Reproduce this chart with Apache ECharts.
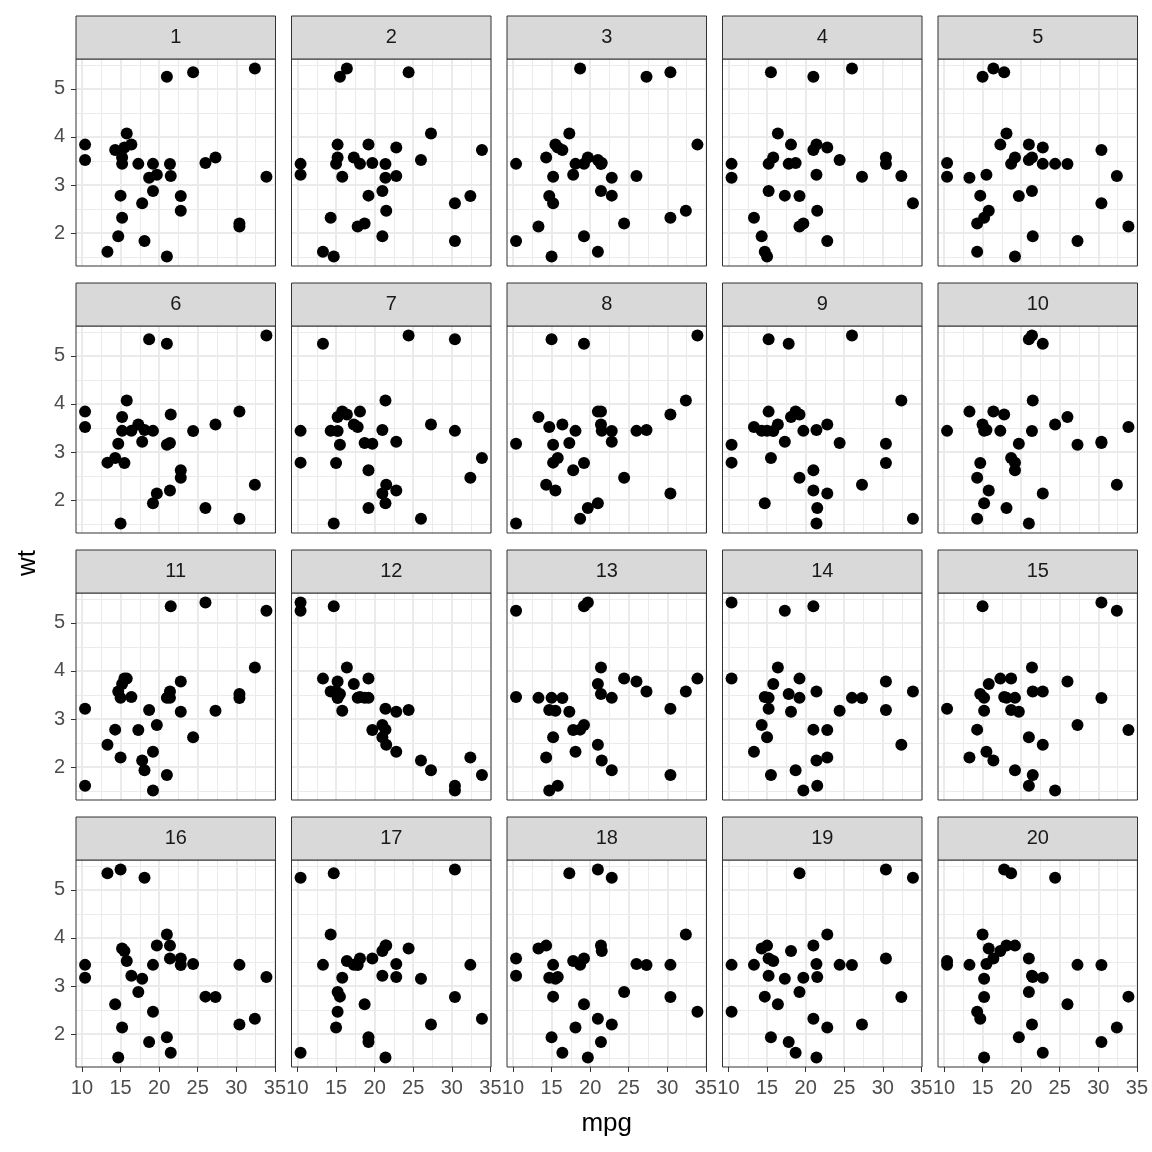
<!DOCTYPE html>
<html><head><meta charset="utf-8">
<script src="https://cdn.jsdelivr.net/npm/echarts@6/dist/echarts.min.js"></script>
<style>html,body{margin:0;padding:0;background:#fff}#c{width:1152px;height:1152px}</style>
</head><body><div id="c"></div>
<script>
const facetLabels = ['1','2','3','4','5','6','7','8','9','10','11','12','13','14','15','16','17','18','19','20'];
const xTicks = [10,15,20,25,30,35];
const xMinor = [12.5,17.5,22.5,27.5,32.5];
const yTicks = [2,3,4,5];
const yMinor = [1.5,2.5,3.5,4.5,5.5];
const xTitle = 'mpg';
const yTitle = 'wt';

// each point: [mpg, wt]
const p1 = [[21.0,5.25],[24.4,5.345],[32.4,5.424],[15.8,4.07],[10.4,3.84],[10.4,3.52],[14.3,3.73],[15.5,3.78],[16.4,3.845],[15.2,3.57],[17.3,3.44],[19.2,3.44],[21.4,3.435],[26.0,3.46],[27.3,3.57],[33.9,3.17],[18.7,3.15],[19.7,3.215],[21.5,3.19],[19.2,2.875],[15.0,2.78],[22.8,2.77],[17.8,2.62],[22.8,2.465],[15.2,2.32],[30.4,2.2],[30.4,2.14],[14.7,1.935],[18.1,1.835],[13.3,1.615],[21.0,1.513],[15.2,3.44]];
const p2 = [[16.4,5.424],[15.5,5.25],[24.4,5.345],[27.3,4.07],[15.2,3.84],[19.2,3.845],[22.8,3.78],[33.9,3.73],[15.2,3.57],[17.3,3.57],[26.0,3.52],[10.4,3.44],[15.0,3.44],[18.1,3.44],[19.7,3.46],[21.4,3.435],[10.4,3.215],[15.8,3.17],[21.4,3.15],[22.8,3.19],[21.0,2.875],[19.2,2.78],[32.4,2.77],[30.4,2.62],[21.5,2.465],[14.3,2.32],[17.8,2.14],[18.7,2.2],[21.0,1.935],[30.4,1.835],[13.3,1.615],[14.7,1.513]];
const p3 = [[18.7,5.424],[27.3,5.25],[30.4,5.345],[17.3,4.07],[33.9,3.84],[15.5,3.845],[16.4,3.73],[15.8,3.78],[14.3,3.57],[10.4,3.44],[18.1,3.44],[19.2,3.44],[19.7,3.57],[21.0,3.52],[21.4,3.435],[21.5,3.46],[15.2,3.17],[17.8,3.215],[22.8,3.15],[26.0,3.19],[21.4,2.875],[22.8,2.78],[14.7,2.77],[15.2,2.62],[32.4,2.465],[30.4,2.32],[24.4,2.2],[13.3,2.14],[19.2,1.935],[10.4,1.835],[21.0,1.615],[15.0,1.513]];
const p4 = [[15.5,5.345],[21.0,5.25],[26.0,5.424],[16.4,4.07],[18.1,3.84],[21.4,3.845],[21.0,3.73],[22.8,3.78],[15.8,3.57],[15.2,3.44],[17.8,3.44],[18.7,3.46],[24.4,3.52],[30.4,3.57],[30.4,3.435],[10.4,3.44],[10.4,3.15],[21.4,3.215],[27.3,3.17],[32.4,3.19],[15.2,2.875],[17.3,2.78],[19.2,2.77],[33.9,2.62],[21.5,2.465],[13.3,2.32],[19.2,2.14],[19.7,2.2],[14.3,1.935],[22.8,1.835],[14.7,1.615],[15.0,1.513]];
const p5 = [[16.4,5.424],[15.0,5.25],[17.8,5.345],[18.1,4.07],[17.3,3.84],[21.0,3.845],[22.8,3.78],[30.4,3.73],[19.2,3.57],[18.7,3.44],[21.0,3.52],[21.4,3.57],[22.8,3.44],[24.4,3.44],[26.0,3.435],[10.4,3.46],[10.4,3.17],[13.3,3.15],[15.5,3.215],[32.4,3.19],[14.7,2.78],[19.7,2.77],[21.4,2.875],[30.4,2.62],[15.8,2.465],[15.2,2.32],[14.3,2.2],[33.9,2.14],[21.5,1.935],[27.3,1.835],[14.3,1.615],[19.2,1.513]];
const p6 = [[33.9,5.424],[18.7,5.345],[21.0,5.25],[15.8,4.07],[10.4,3.84],[15.2,3.73],[21.5,3.78],[30.4,3.845],[10.4,3.52],[17.3,3.57],[15.2,3.44],[16.4,3.44],[18.1,3.46],[19.2,3.44],[24.4,3.435],[27.3,3.57],[14.7,3.17],[17.8,3.215],[21.0,3.15],[21.4,3.19],[13.3,2.78],[14.3,2.875],[15.5,2.77],[22.8,2.62],[22.8,2.465],[32.4,2.32],[21.4,2.2],[19.7,2.14],[19.2,1.935],[26.0,1.835],[30.4,1.615],[15.0,1.513]];
const p7 = [[13.3,5.25],[24.4,5.424],[30.4,5.345],[21.4,4.07],[15.8,3.845],[16.4,3.78],[15.2,3.73],[18.1,3.84],[17.3,3.57],[17.8,3.52],[27.3,3.57],[10.4,3.44],[14.3,3.44],[15.2,3.435],[21.0,3.46],[30.4,3.44],[15.5,3.15],[18.7,3.19],[19.7,3.17],[22.8,3.215],[33.9,2.875],[10.4,2.78],[15.0,2.77],[19.2,2.62],[32.4,2.465],[21.5,2.32],[21.0,2.14],[22.8,2.2],[21.4,1.935],[19.2,1.835],[26.0,1.615],[14.7,1.513]];
const p8 = [[15.0,5.345],[19.2,5.25],[33.9,5.424],[32.4,4.07],[13.3,3.73],[14.7,3.52],[16.4,3.57],[18.1,3.44],[21.0,3.84],[21.4,3.845],[21.4,3.57],[21.5,3.44],[22.8,3.435],[26.0,3.44],[27.3,3.46],[30.4,3.78],[10.4,3.17],[15.2,3.15],[17.3,3.19],[22.8,3.215],[15.8,2.875],[15.2,2.78],[19.2,2.77],[17.8,2.62],[24.4,2.465],[14.3,2.32],[15.5,2.2],[30.4,2.14],[21.0,1.935],[19.7,1.835],[18.7,1.615],[10.4,1.513]];
const p9 = [[15.2,5.345],[17.8,5.25],[26.0,5.424],[32.4,4.07],[15.2,3.84],[18.1,3.73],[18.7,3.845],[19.2,3.78],[13.3,3.52],[14.3,3.44],[15.0,3.44],[15.8,3.435],[16.4,3.57],[19.7,3.44],[21.4,3.46],[22.8,3.57],[10.4,3.15],[17.3,3.215],[24.4,3.19],[30.4,3.17],[10.4,2.78],[15.5,2.875],[30.4,2.77],[21.0,2.62],[19.2,2.465],[27.3,2.32],[21.0,2.2],[22.8,2.14],[14.7,1.935],[21.5,1.835],[21.4,1.513],[33.9,1.615]];
const p10 = [[21.4,5.424],[21.0,5.345],[22.8,5.25],[21.5,4.07],[13.3,3.84],[16.4,3.845],[17.8,3.78],[26.0,3.73],[15.0,3.57],[24.4,3.57],[33.9,3.52],[10.4,3.44],[15.2,3.44],[17.3,3.44],[21.4,3.435],[15.5,3.46],[19.7,3.17],[27.3,3.15],[30.4,3.215],[30.4,3.19],[18.7,2.875],[19.2,2.78],[14.7,2.77],[19.2,2.62],[14.3,2.465],[15.8,2.2],[22.8,2.14],[32.4,2.32],[15.2,1.935],[18.1,1.835],[14.3,1.615],[21.0,1.513]];
const p11 = [[21.5,5.345],[26.0,5.424],[33.9,5.25],[32.4,4.07],[15.5,3.845],[15.8,3.84],[15.2,3.73],[14.7,3.57],[15.0,3.44],[16.4,3.46],[22.8,3.78],[21.4,3.57],[21.0,3.44],[21.4,3.44],[30.4,3.52],[30.4,3.435],[10.4,3.215],[18.7,3.19],[22.8,3.15],[27.3,3.17],[19.7,2.875],[14.3,2.78],[17.3,2.77],[24.4,2.62],[13.3,2.465],[19.2,2.32],[15.0,2.2],[17.8,2.14],[18.1,1.935],[21.0,1.835],[10.4,1.615],[19.2,1.513]];
const p12 = [[21.0,2.620],[21.0,2.875],[22.8,2.320],[21.4,3.215],[18.7,3.440],[18.1,3.460],[14.3,3.570],[24.4,3.190],[22.8,3.150],[19.2,3.440],[17.8,3.440],[16.4,4.070],[17.3,3.730],[15.2,3.780],[10.4,5.250],[10.4,5.424],[14.7,5.345],[32.4,2.200],[30.4,1.615],[33.9,1.835],[21.5,2.465],[15.5,3.520],[15.2,3.435],[13.3,3.840],[19.2,3.845],[27.3,1.935],[26.0,2.140],[30.4,1.513],[15.8,3.170],[19.7,2.770],[15.0,3.570],[21.4,2.780]];
const p13 = [[10.4,5.25],[19.2,5.345],[19.7,5.424],[21.4,4.07],[21.0,3.73],[21.4,3.52],[22.8,3.44],[24.4,3.845],[26.0,3.78],[27.3,3.57],[32.4,3.57],[33.9,3.84],[10.4,3.46],[13.3,3.44],[15.0,3.44],[16.4,3.435],[30.4,3.215],[14.7,3.19],[15.5,3.17],[17.3,3.15],[17.8,2.77],[18.7,2.78],[19.2,2.875],[15.2,2.62],[21.0,2.465],[18.1,2.32],[14.3,2.2],[21.5,2.14],[22.8,1.935],[30.4,1.835],[14.7,1.513],[15.8,1.615]];
const p14 = [[10.4,5.424],[17.3,5.25],[21.0,5.345],[16.4,4.07],[10.4,3.845],[15.8,3.73],[19.2,3.84],[30.4,3.78],[33.9,3.57],[21.4,3.57],[14.7,3.46],[15.2,3.44],[17.8,3.52],[19.2,3.44],[26.0,3.44],[27.3,3.435],[15.2,3.215],[18.1,3.15],[24.4,3.17],[30.4,3.19],[14.3,2.875],[15.0,2.62],[21.0,2.78],[22.8,2.77],[32.4,2.465],[13.3,2.32],[21.4,2.14],[22.8,2.2],[15.5,1.835],[18.7,1.935],[21.5,1.615],[19.7,1.513]];
const p15 = [[15.0,5.345],[30.4,5.424],[32.4,5.25],[21.4,4.07],[17.3,3.84],[18.7,3.845],[15.8,3.73],[26.0,3.78],[14.7,3.52],[15.2,3.44],[17.8,3.46],[18.1,3.44],[19.2,3.44],[21.5,3.57],[22.8,3.57],[30.4,3.435],[10.4,3.215],[15.2,3.17],[19.7,3.15],[18.7,3.19],[27.3,2.875],[14.3,2.78],[33.9,2.77],[21.0,2.62],[22.8,2.465],[15.5,2.32],[13.3,2.2],[16.4,2.14],[19.2,1.935],[21.5,1.835],[21.0,1.615],[24.4,1.513]];
const p16 = [[13.3,5.345],[15.0,5.424],[18.1,5.25],[21.0,4.07],[19.7,3.845],[21.4,3.84],[15.2,3.78],[15.5,3.73],[15.8,3.52],[21.4,3.57],[22.8,3.57],[10.4,3.44],[19.2,3.44],[22.8,3.435],[24.4,3.46],[30.4,3.44],[10.4,3.17],[16.4,3.215],[17.8,3.15],[33.9,3.19],[17.3,2.875],[26.0,2.78],[27.3,2.77],[14.3,2.62],[19.2,2.465],[32.4,2.32],[30.4,2.2],[15.2,2.14],[21.0,1.935],[18.7,1.835],[21.5,1.615],[14.7,1.513]];
const p17 = [[10.4,5.25],[14.7,5.345],[30.4,5.424],[14.3,4.07],[13.3,3.44],[16.4,3.52],[17.3,3.44],[18.1,3.57],[17.8,3.435],[19.7,3.57],[21.0,3.73],[21.4,3.84],[21.5,3.845],[24.4,3.78],[22.8,3.46],[32.4,3.44],[15.8,3.17],[21.0,3.215],[22.8,3.19],[26.0,3.15],[15.2,2.875],[15.5,2.78],[30.4,2.77],[18.7,2.62],[15.2,2.465],[33.9,2.32],[27.3,2.2],[15.0,2.14],[19.2,1.935],[19.2,1.835],[10.4,1.615],[21.4,1.513]];
const p18 = [[17.3,5.345],[21.0,5.424],[22.8,5.25],[32.4,4.07],[14.3,3.84],[13.3,3.78],[21.4,3.845],[21.5,3.73],[10.4,3.57],[10.4,3.215],[15.2,3.44],[17.8,3.52],[19.2,3.57],[18.7,3.44],[26.0,3.46],[27.3,3.435],[30.4,3.44],[14.7,3.17],[15.5,3.15],[15.8,3.19],[24.4,2.875],[15.2,2.78],[30.4,2.77],[19.2,2.62],[33.9,2.465],[21.0,2.32],[18.1,2.14],[22.8,2.2],[15.0,1.935],[21.4,1.835],[16.4,1.615],[19.7,1.513]];
const p19 = [[19.2,5.345],[30.4,5.424],[33.9,5.25],[22.8,4.07],[14.3,3.78],[15.0,3.84],[18.1,3.73],[21.0,3.845],[15.2,3.57],[15.8,3.52],[21.4,3.46],[30.4,3.57],[10.4,3.44],[13.3,3.44],[24.4,3.44],[26.0,3.435],[15.2,3.215],[17.3,3.15],[19.7,3.17],[21.5,3.19],[19.2,2.875],[14.7,2.78],[16.4,2.62],[32.4,2.77],[10.4,2.465],[21.0,2.32],[22.8,2.14],[27.3,2.2],[15.5,1.935],[17.8,1.835],[18.7,1.615],[21.4,1.513]];
const p20 = [[17.8,5.424],[18.7,5.345],[24.4,5.25],[15.0,4.07],[18.1,3.845],[19.2,3.84],[15.8,3.78],[17.3,3.73],[16.4,3.57],[21.0,3.57],[10.4,3.52],[15.5,3.46],[10.4,3.44],[13.3,3.44],[27.3,3.44],[30.4,3.435],[21.4,3.215],[21.5,3.19],[22.8,3.17],[15.2,3.15],[21.0,2.875],[33.9,2.78],[15.2,2.77],[26.0,2.62],[14.3,2.465],[14.7,2.32],[21.4,2.2],[32.4,2.14],[19.7,1.935],[30.4,1.835],[22.8,1.615],[15.2,1.513]];

const panels = [p1,p2,p3,p4,p5,p6,p7,p8,p9,p10,p11,p12,p13,p14,p15,p16,p17,p18,p19,p20];

// layout
const NCOL = 5, NROW = 4;
const L0 = 76, PW = 199.5, DX = 215.5;
const T0 = 59, PH = 207, DY = 267, SH = 43;
const FONT = '"Liberation Sans", Arial, Helvetica, sans-serif';

// ggplot-style 5% expansion of the data range
const allX = panels.flat().map(d => d[0]);
const allY = panels.flat().map(d => d[1]);
const xmin0 = Math.min(...allX), xmax0 = Math.max(...allX);
const ymin0 = Math.min(...allY), ymax0 = Math.max(...allY);
const xr = [xmin0 - 0.05*(xmax0-xmin0), xmax0 + 0.05*(xmax0-xmin0)];
const yr = [ymin0 - 0.05*(ymax0-ymin0), ymax0 + 0.05*(ymax0-ymin0)];

const grids = [], xAxes = [], yAxes = [], series = [], graphics = [];
panels.forEach((data, i) => {
  const col = i % NCOL, row = Math.floor(i / NCOL);
  const left = L0 + col*DX, top = T0 + row*DY;
  grids.push({left: left, top: top, width: PW, height: PH, containLabel: false, outerBoundsMode: 'none', show: false});
  const bottom = row === NROW-1, leftCol = col === 0;
  xAxes.push({
    type: 'value', gridIndex: i, min: xr[0], max: xr[1],
    axisLine: {show: false, onZero: false},
    axisTick: {show: bottom, length: 5, customValues: xTicks, lineStyle: {color: '#333333', width: 1}},
    axisLabel: {show: bottom, customValues: xTicks, fontSize: 20, color: '#4D4D4D', margin: 11, fontFamily: FONT},
    splitLine: {show: false}, minorSplitLine: {show: false}
  });
  yAxes.push({
    type: 'value', gridIndex: i, min: yr[0], max: yr[1],
    axisLine: {show: false, onZero: false},
    axisTick: {show: leftCol, length: 5, customValues: yTicks, lineStyle: {color: '#333333', width: 1}},
    axisLabel: {show: leftCol, customValues: yTicks, fontSize: 20, color: '#4D4D4D', margin: 11, fontFamily: FONT},
    splitLine: {show: false}, minorSplitLine: {show: false}
  });
  const lines = [];
  xMinor.forEach(v => lines.push({xAxis: v, lineStyle: {width: 1, color: '#EBEBEB', type: 'solid'}}));
  yMinor.forEach(v => lines.push({yAxis: v, lineStyle: {width: 1, color: '#EBEBEB', type: 'solid'}}));
  xTicks.forEach(v => lines.push({xAxis: v, lineStyle: {width: 2, color: '#EBEBEB', type: 'solid'}}));
  yTicks.forEach(v => lines.push({yAxis: v, lineStyle: {width: 2, color: '#EBEBEB', type: 'solid'}}));
  series.push({
    type: 'scatter', xAxisIndex: i, yAxisIndex: i, data: [], z: 1, silent: true,
    markLine: {silent: true, z: 1, symbol: ['none','none'], label: {show: false}, animation: false,
      emphasis: {disabled: true}, data: lines}
  });
  series.push({
    type: 'scatter', xAxisIndex: i, yAxisIndex: i, data: data, z: 10, silent: true,
    symbol: 'circle', symbolSize: 12, itemStyle: {color: '#000000', opacity: 1}, animation: false
  });
  // panel border
  graphics.push({type: 'rect', z: 50, silent: true,
    shape: {x: left, y: top, width: PW, height: PH},
    style: {fill: 'none', stroke: '#333333', lineWidth: 1}});
  // strip
  graphics.push({type: 'rect', z: 50, silent: true,
    shape: {x: left, y: top - SH, width: PW, height: SH},
    style: {fill: '#D9D9D9', stroke: '#333333', lineWidth: 1}});
  graphics.push({type: 'text', z: 51, silent: true, x: left + PW/2, y: top - SH/2,
    style: {text: facetLabels[i], fill: '#1A1A1A', fontSize: 20, fontFamily: FONT, align: 'center', verticalAlign: 'middle'}});
});

graphics.push({type: 'text', z: 51, silent: true, x: L0 + (NCOL-1)*DX/2 + PW/2, y: 1124,
  style: {text: xTitle, fill: '#000000', fontSize: 26, fontFamily: FONT, align: 'center', verticalAlign: 'middle'}});
graphics.push({type: 'text', z: 51, silent: true, x: 28, y: T0 + ((NROW-1)*DY + PH)/2, rotation: Math.PI/2,
  style: {text: yTitle, fill: '#000000', fontSize: 26, fontFamily: FONT, align: 'center', verticalAlign: 'middle'}});

const chart = echarts.init(document.getElementById('c'), null, {renderer: 'canvas', width: 1152, height: 1152});
chart.setOption({
  animation: false,
  backgroundColor: '#ffffff',
  grid: grids, xAxis: xAxes, yAxis: yAxes, series: series, graphic: graphics
});
</script></body></html>
